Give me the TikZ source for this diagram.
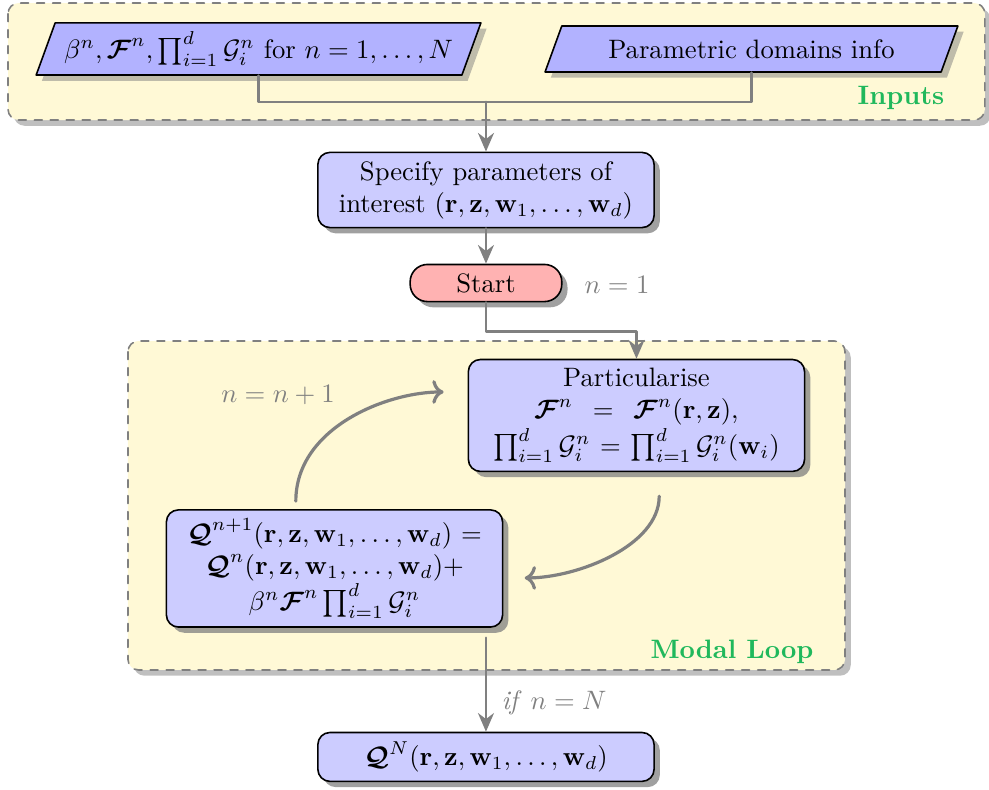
\documentclass[tikz,border=0pt]{standalone}
\usepackage{amsmath}
\usepackage{amssymb}
\usepackage{bm}
\usepackage{tikz}
\usetikzlibrary{arrows.meta,shapes.geometric,shadows}

\definecolor{panel}{RGB}{255,249,214}
\definecolor{tagreen}{RGB}{32,184,92}

\newcommand{\bF}{\bm{\mathcal{F}}}
\newcommand{\bQ}{\bm{\mathcal{Q}}}
\newcommand{\args}{(\mathbf{r},\mathbf{z},\mathbf{w}_1,\ldots,\mathbf{w}_d)}

\begin{document}
\begin{tikzpicture}[line cap=round,line join=round,
  para/.style={trapezium,trapezium left angle=70,trapezium right angle=110,draw,semithick,fill=blue!30,minimum height=0.6cm,drop shadow},
  block/.style={rectangle,rounded corners=4.5pt,draw,semithick,fill=blue!20,text width=4.2cm,align=center,drop shadow={opacity=0.75}},
  startbox/.style={rectangle,rounded corners=6.5pt,draw,semithick,fill=red!30,minimum width=2cm,minimum height=0.475cm,drop shadow={opacity=0.75}},
  panelbox/.style={draw=gray,semithick,dashed,rounded corners=4pt,fill=panel,drop shadow},
  link/.style={draw=gray,line width=1pt},
  flow/.style={link,-{Stealth[length=7pt,width=6pt]}},
  turn/.style={draw=gray,line width=1.2pt,->},
  tag/.style={text=gray},
  title/.style={text=tagreen,font=\bfseries}]
\useasboundingbox (0,0) rectangle (13.045,-10.42);

% dashed panels
\draw[panelbox] (0.106,-0.04) rectangle (12.99,-1.583);
\draw[panelbox] (1.688,-4.498) rectangle (11.146,-8.837);

\node[para] (data) at (3.41,-0.646) {$\beta^n,\bF^n,\prod_{i=1}^d\mathcal{G}_i^n$ for $n=1,\ldots,N$};
\node[para,minimum width=5.45cm] (domains) at (9.912,-0.646) {Parametric domains info};
\node[title] (inputs) at (11.884,-1.293) {Inputs};

\node[block] (spec) at (6.41,-2.506) {Specify parameters of\\ interest $\args$};
\node[startbox] (start) at (6.41,-3.733) {Start};
\node[tag] (first) at (8.138,-3.759) {$n=1$};

\node[block] (part) at (8.395,-5.48) {Particularise\\ $\bF^n\,=\,\bF^n(\mathbf{r},\mathbf{z})$,\\ $\prod_{i=1}^d\mathcal{G}_i^n=\prod_{i=1}^d\mathcal{G}_i^n(\mathbf{w}_i)$};
\node[block] (update) at (4.412,-7.498) {$\bQ^{n+1}\args=$\\ $\bQ^n\args+$\\ $\beta^n\bF^n\prod_{i=1}^d\mathcal{G}_i^n$};
\node[tag] (next) at (3.667,-5.21) {$n=n+1$};
\node[title] (modal) at (9.655,-8.6) {Modal Loop};

\node[block] (result) at (6.41,-9.984) {$\bQ^N\args$};

\coordinate (join) at (spec.north |- 0,-1.345);
\draw[link] (data.south) |- (join) -| (domains.south);
\draw[flow] (join) -- (spec.north);
\draw[flow] (spec) -- (start);
\draw[flow] (start.south) -- ++(0,-0.38) -| (part.north);
\draw[turn,shorten <=3pt,shorten >=9pt] ([xshift=-0.51cm]update.north) to[out=90,in=180] ([yshift=0.31cm]part.west);
\draw[turn,shorten <=9pt,shorten >=8pt] ([xshift=0.3cm]part.south) to[out=-90,in=0] ([yshift=-0.125cm]update.east);
\draw[flow,shorten <=3.75pt] (update.south -| result.north) -- (result.north) node[tag,right=2pt,pos=0.72] {\textit{if} $n=N$};
\end{tikzpicture}
\end{document}
